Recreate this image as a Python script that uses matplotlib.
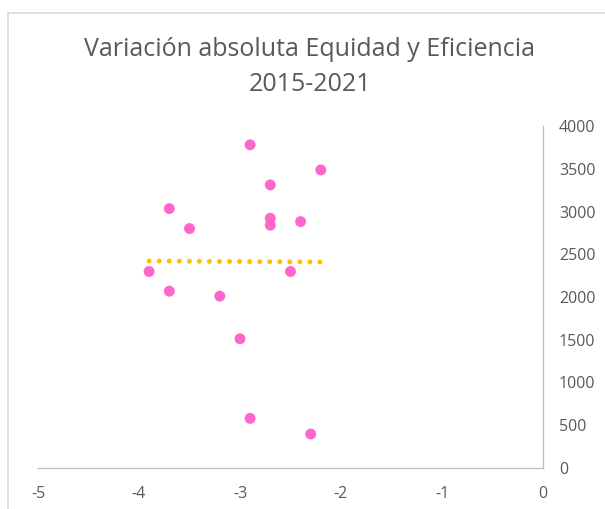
import matplotlib
matplotlib.use("Agg")
import matplotlib.pyplot as plt
import matplotlib.patches as mpatches
import numpy as np

# Data
x_vals = [-2.9, -2.2, -2.7, -3.7, -2.7, -2.4, -2.7, -3.5, -3.9, -2.5, -3.7, -3.2, -3.0, -2.9, -2.3]
y_vals = [3780, 3486, 3311, 3034, 2921, 2882, 2840, 2800, 2298, 2298, 2068, 2010, 1511, 580, 397]
x_ticks = [-5, -4, -3, -2, -1, 0]
y_ticks = [0, 500, 1000, 1500, 2000, 2500, 3000, 3500, 4000]
title_text = "Variación absoluta Equidad y Eficiencia\n2015-2021"

plt.rcParams['font.family'] = ['Open Sans', 'DejaVu Sans']
plt.rcParams['axes.unicode_minus'] = False

W, H = 605, 509
fig = plt.figure(figsize=(W / 100, H / 100), dpi=100)
fig.patch.set_facecolor('white')

# outer chart border (cropped at right/bottom)
border = mpatches.Rectangle((8 / W, -0.2), 2.0, 1.2 - 13 / H, transform=fig.transFigure,
                            fill=False, edgecolor='#D9D9D9', linewidth=1.2)
fig.patches.append(border)

ax = fig.add_axes([38 / W, 1 - 468 / H, (543 - 38) / W, (468 - 126) / H])
ax.set_xlim(-5, 0)
ax.set_ylim(0, 4000)

xs = np.array(x_vals)
ys = np.array(y_vals)
ax.scatter(xs, ys, s=62, color='#FF66CC', edgecolors='none', zorder=3, clip_on=False)

# linear trendline
m, b = np.polyfit(xs, ys, 1)
tx = np.array([xs.min(), xs.max()])
ax.plot(tx, m * tx + b, color='#FFC000', linewidth=3.6,
        linestyle=(0, (0.01, 2.0)), dash_capstyle='round', zorder=2)

ax.set_xticks(x_ticks)
ax.set_yticks(y_ticks)
ax.yaxis.tick_right()
for s in ['top', 'left']:
    ax.spines[s].set_visible(False)
for s in ['right', 'bottom']:
    ax.spines[s].set_color('#BFBFBF')
    ax.spines[s].set_linewidth(1.0)
ax.tick_params(axis='both', length=0, labelsize=11.5, colors='#595959')
ax.tick_params(axis='y', pad=11.5)
ax.tick_params(axis='x', pad=13)

fig.text(310 / W, 1 - 67 / H, title_text, ha='center', va='center',
         fontsize=18, color='#595959', linespacing=1.48)

fig.savefig('out.png', dpi=100, facecolor='white')
